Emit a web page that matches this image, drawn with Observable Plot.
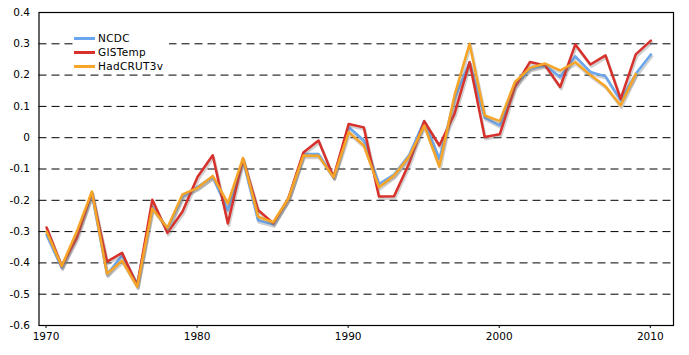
<!DOCTYPE html>
<html><head><meta charset="utf-8">
<script src="https://cdn.jsdelivr.net/npm/d3@7"></script>
<script src="https://cdn.jsdelivr.net/npm/@observablehq/plot@0.6"></script>
<style>
body{margin:0;background:#fff;font-family:"DejaVu Sans",Verdana,sans-serif;}
#wrap{position:relative;width:689px;height:355px;}
#legend{position:absolute;left:73px;top:29px;width:96px;height:45px;background:#fff;font-size:10.5px;color:#000;}
.row{position:absolute;left:0;height:14px;width:96px;}
.sw{position:absolute;left:1px;top:6px;width:21px;height:3px;}
.lb{position:absolute;left:25px;top:0;line-height:14px;letter-spacing:0.3px;}
</style>
</head><body>
<div id="wrap"></div>
<script>
const years = d3.range(1970, 2011);
const ncdc = [-0.31,-0.415,-0.31,-0.18,-0.437,-0.376,-0.467,-0.22,-0.29,-0.188,
  -0.157,-0.125,-0.232,-0.072,-0.264,-0.277,-0.195,-0.052,-0.052,-0.126,
  0.034,-0.009,-0.148,-0.118,-0.055,0.053,-0.068,0.124,0.241,0.064,
  0.039,0.167,0.22,0.231,0.194,0.26,0.21,0.196,0.119,0.204,0.266];
const gistemp = [-0.287,-0.41,-0.32,-0.175,-0.396,-0.368,-0.473,-0.198,-0.304,-0.236,
  -0.125,-0.056,-0.274,-0.067,-0.231,-0.273,-0.195,-0.047,-0.009,-0.126,
  0.044,0.033,-0.188,-0.187,-0.082,0.053,-0.025,0.076,0.241,0.002,
  0.011,0.162,0.242,0.231,0.162,0.298,0.234,0.263,0.124,0.266,0.31];
const hadcrut3v = [-0.30,-0.41,-0.30,-0.172,-0.435,-0.393,-0.476,-0.226,-0.288,-0.181,
  -0.16,-0.122,-0.21,-0.065,-0.252,-0.27,-0.195,-0.057,-0.058,-0.126,
  0.018,-0.025,-0.158,-0.121,-0.06,0.039,-0.092,0.135,0.30,0.071,
  0.053,0.178,0.223,0.237,0.215,0.241,0.2,0.164,0.103,0.204,null];
const seriesNames = ["NCDC","GISTemp","HadCRUT3v"];
const seriesColors = ["#6aa6ee","#d8312b","#f7a527"];
const yTicks = [0.4,0.3,0.2,0.1,0,-0.1,-0.2,-0.3,-0.4,-0.5,-0.6];
const gridValues = [0.3,0.2,0.1,0,-0.1,-0.2,-0.3,-0.4,-0.5];
const xTicks = [1970,1980,1990,2000,2010];

const seriesValues = [ncdc, gistemp, hadcrut3v];
const marks = [
  Plot.ruleY(gridValues, {stroke:"#000", strokeWidth:1, strokeDasharray:"8,5"})
];
seriesValues.forEach((vals, k) => {
  const rows = years.map((yr, i) => ({x: yr + 0.5, v: vals[i]}));
  marks.push(Plot.line(rows, {x:"x", y:"v", stroke:"#777", strokeOpacity:0.35, strokeWidth:3, dx:1, dy:2, strokeLinejoin:"round"}));
  marks.push(Plot.line(rows, {x:"x", y:"v", stroke:seriesColors[k], strokeWidth:2.5, strokeLinejoin:"round"}));
});
marks.push(Plot.frame({stroke:"#000", strokeWidth:1.2}));
marks.push(Plot.axisY(yTicks, {label:null, tickSize:0, tickPadding:9, tickFormat: d => String(Math.round(d*10)/10), fontSize:10.5}));
marks.push(Plot.axisX(xTicks, {label:null, tickSize:3, tickPadding:4, tickFormat: d => String(d), dx:7, fontSize:10.5}));

const chart = Plot.plot({
  width: 689, height: 355,
  marginLeft: 38.5, marginRight: 16, marginTop: 12, marginBottom: 30,
  style: {fontFamily:'"DejaVu Sans",Verdana,sans-serif', fontSize:"10.5px", color:"#000", background:"#fff", overflow:"visible"},
  x: {domain:[1970, 2012], label:null},
  y: {domain:[-0.6, 0.4], label:null},
  marks
});
const wrap = document.getElementById("wrap");
wrap.appendChild(chart);

const legend = document.createElement("div");
legend.id = "legend";
seriesNames.forEach((name, k) => {
  const row = document.createElement("div");
  row.className = "row";
  row.style.top = (2 + k*14) + "px";
  const sw = document.createElement("div");
  sw.className = "sw";
  sw.style.background = seriesColors[k];
  const lb = document.createElement("div");
  lb.className = "lb";
  lb.textContent = name;
  row.appendChild(sw); row.appendChild(lb);
  legend.appendChild(row);
});
wrap.appendChild(legend);
</script>
</body></html>
